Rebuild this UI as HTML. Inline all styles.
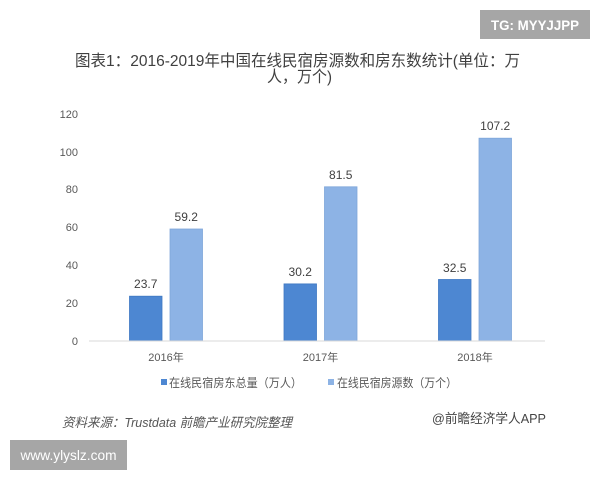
<!DOCTYPE html>
<html><head><meta charset="utf-8">
<style>
html,body{margin:0;padding:0;background:#fff;}
svg{display:block;}
</style></head>
<body>
<svg width="600" height="480" viewBox="0 0 600 480" xmlns="http://www.w3.org/2000/svg">
<rect width="600" height="480" fill="#ffffff"/>
<!-- TG box -->
<rect x="480" y="10" width="110" height="29" fill="#a6a6a6"/>
<text x="535" y="30" text-anchor="middle" font-family="Liberation Sans, sans-serif" font-size="14" font-weight="bold" fill="#ffffff" textLength="88" lengthAdjust="spacingAndGlyphs">TG: MYYJJPP</text>
<!-- Title -->
<g font-family="Liberation Sans, 'Noto Sans CJK SC', sans-serif" font-size="16" fill="#404040">
<text x="75" y="66" textLength="445" lengthAdjust="spacingAndGlyphs">图表1：2016-2019年中国在线民宿房源数和房东数统计(单位：万</text>
<text x="267" y="82" textLength="65" lengthAdjust="spacingAndGlyphs">人，万个)</text>
</g>
<!-- y labels -->
<g font-family="Liberation Sans, sans-serif" font-size="11" fill="#595959" text-anchor="end">
<text x="78" y="345">0</text>
<text x="78" y="307">20</text>
<text x="78" y="269">40</text>
<text x="78" y="231">60</text>
<text x="78" y="193">80</text>
<text x="78" y="156">100</text>
<text x="78" y="118">120</text>
</g>
<!-- bars -->
<g stroke-width="0.8">
<rect x="129.5" y="296.2" width="32.5" height="44.8" fill="#4d87d2" stroke="#3f78c2"/>
<rect x="170" y="229" width="32.5" height="112" fill="#8db3e5" stroke="#7fa6da"/>
<rect x="284" y="283.9" width="32.5" height="57.1" fill="#4d87d2" stroke="#3f78c2"/>
<rect x="324.5" y="186.8" width="32.5" height="154.2" fill="#8db3e5" stroke="#7fa6da"/>
<rect x="438.5" y="279.5" width="32.5" height="61.5" fill="#4d87d2" stroke="#3f78c2"/>
<rect x="479" y="138.2" width="32.5" height="202.8" fill="#8db3e5" stroke="#7fa6da"/>
</g>
<line x1="89" y1="341" x2="545" y2="341" stroke="#d9d9d9" stroke-width="1"/>
<!-- value labels -->
<g font-family="Liberation Sans, sans-serif" font-size="12" fill="#404040" text-anchor="middle">
<text x="145.7" y="288">23.7</text>
<text x="186.2" y="221">59.2</text>
<text x="300.2" y="276">30.2</text>
<text x="340.7" y="179">81.5</text>
<text x="454.7" y="272">32.5</text>
<text x="495.2" y="130">107.2</text>
</g>
<!-- category labels -->
<g font-family="Liberation Sans, 'Noto Sans CJK SC', sans-serif" font-size="11" fill="#595959" text-anchor="middle">
<text x="166" y="361">2016年</text>
<text x="320.5" y="361">2017年</text>
<text x="475" y="361">2018年</text>
</g>
<!-- legend -->
<rect x="161" y="379" width="6" height="6" fill="#4d87d2"/>
<rect x="328" y="379" width="6" height="6" fill="#8db3e5"/>
<g font-family="Liberation Sans, 'Noto Sans CJK SC', sans-serif" font-size="12" fill="#595959">
<text x="169" y="387" textLength="133" lengthAdjust="spacingAndGlyphs">在线民宿房东总量（万人）</text>
<text x="337" y="387" textLength="120" lengthAdjust="spacingAndGlyphs">在线民宿房源数（万个）</text>
</g>
<!-- footer -->
<text x="62" y="427" font-family="Liberation Sans, 'Noto Sans CJK SC', sans-serif" font-size="13" font-style="italic" fill="#555555" textLength="230" lengthAdjust="spacingAndGlyphs">资料来源：Trustdata 前瞻产业研究院整理</text>
<text x="432" y="423" font-family="Liberation Sans, 'Noto Sans CJK SC', sans-serif" font-size="13" fill="#444444" textLength="114" lengthAdjust="spacingAndGlyphs">@前瞻经济学人APP</text>
<!-- website box -->
<rect x="10" y="440" width="117" height="30" fill="#a6a6a6"/>
<text x="68.5" y="460" text-anchor="middle" font-family="Liberation Sans, sans-serif" font-size="14" fill="#ffffff" textLength="96" lengthAdjust="spacingAndGlyphs">www.ylyslz.com</text>
</svg>
</body></html>
